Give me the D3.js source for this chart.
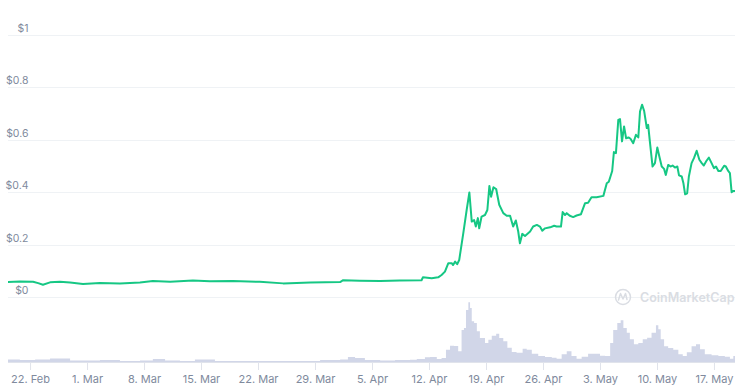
<!DOCTYPE html>
<html>
<head>
<meta charset="utf-8">
<script src="https://cdn.jsdelivr.net/npm/d3@7"></script>
<style>
html,body{margin:0;padding:0;background:#fff;}
svg{display:block;font-family:Inter, "Noto Sans", sans-serif;}
</style>
</head>
<body>
<svg id="chart" width="747" height="391"></svg>
<script>
// ---- data ----
const priceDates = ["2021-02-19T07:00","2021-02-20T18:00","2021-02-22T09:00","2021-02-23T00:00","2021-02-23T14:00","2021-02-24T11:00","2021-02-25T16:00","2021-02-26T22:00","2021-02-28T12:00","2021-03-02T14:00","2021-03-05T01:00","2021-03-07T12:00","2021-03-09T02:00","2021-03-11T05:00","2021-03-14T00:00","2021-03-16T02:00","2021-03-18T22:00","2021-03-22T05:00","2021-03-25T02:00","2021-03-28T10:00","2021-04-01T02:00","2021-04-01T11:00","2021-04-03T12:00","2021-04-06T00:00","2021-04-08T10:00","2021-04-11T02:00","2021-04-11T06:00","2021-04-12T08:00","2021-04-13T03:00","2021-04-13T13:00","2021-04-13T23:00","2021-04-14T09:00","2021-04-14T19:00","2021-04-14T23:00","2021-04-15T05:00","2021-04-15T11:00","2021-04-15T17:00","2021-04-16T05:00","2021-04-16T15:00","2021-04-16T23:00","2021-04-17T06:00","2021-04-17T13:00","2021-04-17T18:00","2021-04-18T00:00","2021-04-18T04:00","2021-04-18T11:00","2021-04-18T21:00","2021-04-19T04:00","2021-04-19T10:00","2021-04-19T15:00","2021-04-19T22:00","2021-04-20T06:00","2021-04-20T15:00","2021-04-21T03:00","2021-04-21T13:00","2021-04-21T23:00","2021-04-22T08:00","2021-04-22T16:00","2021-04-22T23:00","2021-04-23T04:00","2021-04-23T11:00","2021-04-23T19:00","2021-04-24T10:00","2021-04-24T19:00","2021-04-25T06:00","2021-04-25T15:00","2021-04-25T22:00","2021-04-26T06:00","2021-04-26T21:00","2021-04-27T09:00","2021-04-27T16:00","2021-04-28T05:00","2021-04-28T10:00","2021-04-28T17:00","2021-04-28T22:00","2021-04-29T07:00","2021-04-29T17:00","2021-04-30T03:00","2021-04-30T16:00","2021-05-01T04:00","2021-05-01T13:00","2021-05-01T23:00","2021-05-02T14:00","2021-05-03T10:00","2021-05-03T20:00","2021-05-04T02:00","2021-05-04T12:00","2021-05-04T17:00","2021-05-04T23:00","2021-05-05T06:00","2021-05-05T11:00","2021-05-05T17:00","2021-05-05T23:00","2021-05-06T05:00","2021-05-06T12:00","2021-05-06T18:00","2021-05-07T02:00","2021-05-07T10:00","2021-05-07T17:00","2021-05-07T22:00","2021-05-08T04:00","2021-05-08T10:00","2021-05-08T18:00","2021-05-08T22:00","2021-05-09T03:00","2021-05-09T11:00","2021-05-09T18:00","2021-05-10T01:00","2021-05-10T07:00","2021-05-10T14:00","2021-05-10T21:00","2021-05-11T02:00","2021-05-11T09:00","2021-05-11T17:00","2021-05-11T22:00","2021-05-12T05:00","2021-05-12T12:00","2021-05-12T17:00","2021-05-13T01:00","2021-05-13T06:00","2021-05-13T11:00","2021-05-13T17:00","2021-05-13T22:00","2021-05-14T06:00","2021-05-14T13:00","2021-05-14T21:00","2021-05-15T05:00","2021-05-15T12:00","2021-05-15T18:00","2021-05-16T02:00","2021-05-16T09:00","2021-05-16T17:00","2021-05-17T00:00","2021-05-17T06:00","2021-05-17T13:00","2021-05-17T20:00","2021-05-18T06:00","2021-05-18T11:00","2021-05-18T18:00","2021-05-18T23:00","2021-05-19T04:00","2021-05-19T09:00","2021-05-19T14:00"];
const priceValues = [0.057,0.059,0.058,0.053,0.047,0.056,0.058,0.055,0.050,0.053,0.052,0.055,0.061,0.058,0.063,0.060,0.061,0.058,0.052,0.055,0.057,0.064,0.062,0.061,0.063,0.064,0.075,0.072,0.075,0.084,0.097,0.129,0.129,0.122,0.135,0.125,0.141,0.243,0.332,0.399,0.288,0.294,0.269,0.301,0.262,0.307,0.313,0.332,0.424,0.383,0.419,0.412,0.352,0.320,0.310,0.310,0.269,0.292,0.250,0.205,0.241,0.233,0.250,0.269,0.275,0.269,0.253,0.262,0.266,0.272,0.269,0.269,0.324,0.313,0.320,0.310,0.305,0.311,0.316,0.358,0.360,0.381,0.381,0.386,0.434,0.440,0.481,0.553,0.549,0.676,0.679,0.594,0.651,0.606,0.609,0.604,0.587,0.619,0.609,0.708,0.734,0.711,0.645,0.657,0.594,0.498,0.511,0.571,0.536,0.498,0.489,0.466,0.504,0.498,0.502,0.494,0.498,0.464,0.460,0.434,0.392,0.396,0.460,0.511,0.530,0.558,0.524,0.511,0.502,0.520,0.532,0.511,0.492,0.498,0.481,0.481,0.501,0.498,0.481,0.473,0.400,0.405,0.405];

const volumeDates = ["2021-02-19T07:00","2021-02-20T18:00","2021-02-22T15:00","2021-02-24T11:00","2021-02-25T16:00","2021-02-26T22:00","2021-03-01T09:00","2021-03-02T14:00","2021-03-05T01:00","2021-03-07T12:00","2021-03-09T02:00","2021-03-10T14:00","2021-03-12T10:00","2021-03-14T06:00","2021-03-16T17:00","2021-03-19T19:00","2021-03-22T06:00","2021-03-24T17:00","2021-03-27T04:00","2021-03-29T15:00","2021-04-01T02:00","2021-04-02T01:00","2021-04-02T22:00","2021-04-04T03:00","2021-04-06T00:00","2021-04-07T20:00","2021-04-09T16:00","2021-04-10T12:00","2021-04-11T12:00","2021-04-12T03:00","2021-04-12T23:00","2021-04-13T13:00","2021-04-14T02:00","2021-04-14T14:00","2021-04-15T02:00","2021-04-15T14:00","2021-04-16T00:00","2021-04-16T07:00","2021-04-16T13:00","2021-04-16T20:00","2021-04-17T01:00","2021-04-17T06:00","2021-04-17T13:00","2021-04-17T21:00","2021-04-18T06:00","2021-04-18T21:00","2021-04-19T07:00","2021-04-19T17:00","2021-04-20T06:00","2021-04-20T15:00","2021-04-21T03:00","2021-04-21T15:00","2021-04-22T04:00","2021-04-22T18:00","2021-04-23T12:00","2021-04-24T00:00","2021-04-24T15:00","2021-04-25T10:00","2021-04-26T06:00","2021-04-27T02:00","2021-04-27T16:00","2021-04-28T07:00","2021-04-28T22:00","2021-04-29T12:00","2021-04-30T03:00","2021-04-30T18:00","2021-05-01T13:00","2021-05-02T09:00","2021-05-03T00:00","2021-05-03T15:00","2021-05-04T06:00","2021-05-04T15:00","2021-05-05T03:00","2021-05-05T13:00","2021-05-05T21:00","2021-05-06T07:00","2021-05-06T16:00","2021-05-07T04:00","2021-05-07T17:00","2021-05-08T06:00","2021-05-08T19:00","2021-05-09T08:00","2021-05-09T21:00","2021-05-10T04:00","2021-05-10T11:00","2021-05-10T21:00","2021-05-11T09:00","2021-05-12T00:00","2021-05-12T15:00","2021-05-13T04:00","2021-05-13T16:00","2021-05-14T06:00","2021-05-14T19:00","2021-05-15T07:00","2021-05-15T21:00","2021-05-16T17:00","2021-05-17T13:00","2021-05-18T08:00","2021-05-18T23:00","2021-05-19T09:00","2021-05-19T14:00"];
const volumeValues = [0.25,0.2,0.25,0.35,0.35,0.15,0.15,0.2,0.1,0.15,0.3,0.15,0.1,0.25,0.1,0.1,0.1,0.1,0.1,0.2,0.25,0.5,0.4,0.2,0.15,0.2,0.23,0.3,0.47,0.5,0.3,0.4,1.23,1.63,1.6,1.07,3.2,3.4,5.2,5.97,5.4,4.07,3.9,3.07,2.4,1.9,2.23,2.63,2.83,2.4,2.07,1.43,1.0,0.93,1.33,1.23,0.83,0.6,0.5,0.43,0.33,0.77,1.07,0.6,0.33,0.53,0.83,0.83,0.63,0.6,1.9,3.2,3.9,4.17,3.4,2.93,2.27,1.77,1.9,2.27,2.43,2.93,3.67,3.27,2.27,1.57,1.4,1.23,0.77,0.6,0.97,1.57,1.77,1.27,0.77,0.67,0.6,0.53,0.33,0.6,0.6];

const yTickValues = [0, 0.2, 0.4, 0.6, 0.8, 1];
const yTickLabels = ["$0", "$0.2", "$0.4", "$0.6", "$0.8", "$1"];
const xTickDates = ["2021-02-22","2021-03-01","2021-03-08","2021-03-15","2021-03-22","2021-03-29","2021-04-05","2021-04-12","2021-04-19","2021-04-26","2021-05-03","2021-05-10","2021-05-17"];
const xTickLabels = ["22. Feb","1. Mar","8. Mar","15. Mar","22. Mar","29. Mar","5. Apr","12. Apr","19. Apr","26. Apr","3. May","10. May","17. May"];
const domainStart = "2021-02-19T07:00";
const domainEnd = "2021-05-19T14:00";

// ---- chart ----
const parse = d3.utcParse("%Y-%m-%dT%H:%M");
const parseDay = d3.utcParse("%Y-%m-%d");
const price = priceDates.map((d, i) => ({date: parse(d), value: priceValues[i]}));
const volume = volumeDates.map((d, i) => ({date: parse(d), value: volumeValues[i]}));

const svg = d3.select("#chart");
const left = 8, right = 735;
const x = d3.scaleUtc().domain([parse(domainStart), parse(domainEnd)]).range([left, right]);
const y = d3.scaleLinear().domain([0, 1]).range([297, 35]);
const yVol = d3.scaleLinear().domain([0, 6]).range([362, 302]);

// gridlines
svg.append("g").selectAll("line").data(yTickValues).join("line")
  .attr("x1", left).attr("x2", right)
  .attr("y1", d => Math.round(y(d)) + 0.5).attr("y2", d => Math.round(y(d)) + 0.5)
  .attr("stroke", "#eff2f5").attr("stroke-width", 1);

// y labels
svg.append("g").selectAll("text").data(yTickValues).join("text")
  .attr("x", 28.5).attr("y", d => y(d) - 3)
  .attr("text-anchor", "end")
  .attr("font-size", 10.5)
  .attr("fill", "#808a9d")
  .text((d, i) => yTickLabels[i]);

// volume area
const area = d3.area().x(d => x(d.date)).y0(yVol(0)).y1(d => yVol(d.value)).curve(d3.curveStepAfter);
svg.append("path").datum(volume).attr("d", area).attr("fill", "#d1d6e8");

// watermark
const wm = svg.append("g");
wm.append("circle").attr("cx", 623).attr("cy", 297).attr("r", 7.5).attr("fill", "none").attr("stroke", "#dadde3").attr("stroke-width", 1.5);
wm.append("path").attr("d", "M618.5,300 L620.5,293.5 L623,299 L625.5,293.5 L627,299.5").attr("fill", "none").attr("stroke", "#dadde3").attr("stroke-width", 1.5).attr("stroke-linejoin", "round").attr("stroke-linecap", "round");
wm.append("text").attr("x", 640).attr("y", 301.5).attr("font-size", 12.5).attr("font-weight", 600).attr("fill", "#dadde3").text("CoinMarketCap");

// price line
const line = d3.line().x(d => x(d.date)).y(d => y(d.value));
svg.append("path").datum(price).attr("d", line)
  .attr("fill", "none").attr("stroke", "#16c784").attr("stroke-width", 2).attr("stroke-linejoin", "round");

// x axis
const xTicks = xTickDates.map(parseDay);
const xAxis = d3.axisBottom(x).tickValues(xTicks).tickSize(8).tickPadding(5)
  .tickFormat((d, i) => xTickLabels[i]);
const gx = svg.append("g").attr("transform", "translate(0,362)").call(xAxis);
gx.select(".domain").attr("stroke", "#e0e3eb").attr("d", `M${left},0.5H${right}`);
gx.selectAll(".tick line").attr("stroke", "#e0e3eb");
gx.selectAll(".tick text").attr("fill", "#808a9d").attr("font-size", 11).attr("font-family", "Inter, 'Noto Sans', sans-serif");
</script>
</body>
</html>
